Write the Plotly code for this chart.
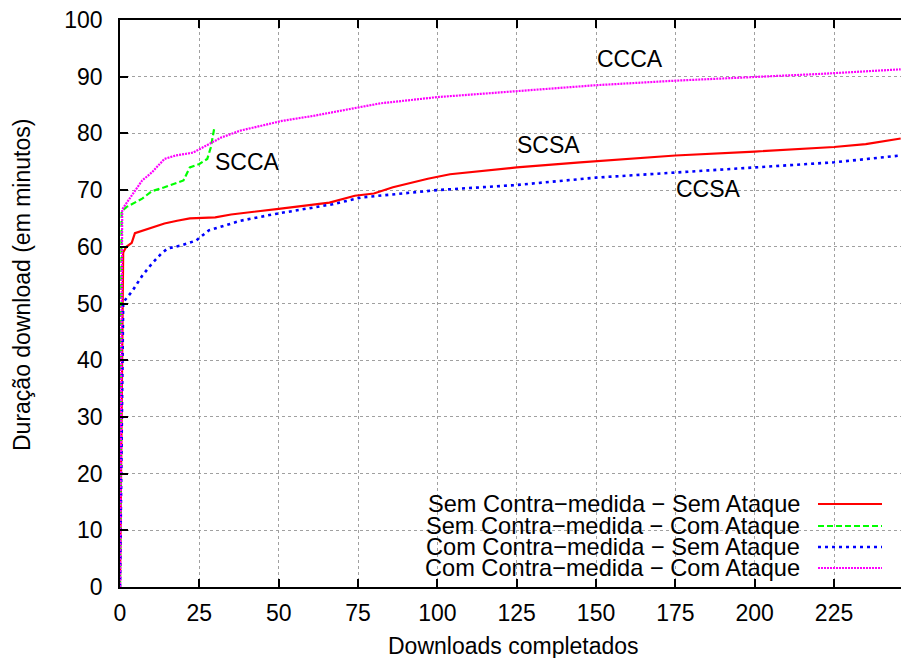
import plotly.graph_objects as go

# ---- data ----
scsa_x = [0, 1, 2, 3.7, 4.7, 9, 14, 18, 22, 30, 35, 50, 66, 74, 80, 86, 91, 97, 104, 113, 125, 145, 160, 175, 200, 225, 235, 246]
scsa_y = [0, 59, 60, 60.7, 62.4, 63.2, 64.1, 64.6, 65, 65.2, 65.7, 66.7, 67.8, 69, 69.4, 70.5, 71.2, 72, 72.8, 73.3, 74.0, 74.9, 75.5, 76.1, 76.8, 77.6, 78.1, 79.1]

scca_x = [0, 0.5, 2, 7, 10, 14, 20, 22, 25, 27.5, 28.6, 29.7]
scca_y = [0, 66.2, 67, 68.5, 69.8, 70.5, 71.7, 74.0, 74.6, 75.5, 77.5, 80.9]

ccsa_x = [0, 1, 4, 7, 10, 13, 15, 19, 24, 28, 38, 49, 67, 76, 100, 125, 150, 175, 200, 225, 246]
ccsa_y = [0, 50.2, 52.3, 54.9, 57, 58.8, 59.7, 60.2, 61.1, 62.9, 64.6, 65.8, 67.5, 68.7, 70.0, 70.9, 72.2, 73.1, 74.0, 74.9, 76.1]

ccca_x = [0, 0.7, 4, 7, 10, 14, 17.5, 23, 28, 32, 38, 44, 51, 61, 72, 82, 100, 125, 150, 175, 200, 221, 246]
ccca_y = [0, 66.6, 69.3, 71.7, 73.1, 75.5, 76.1, 76.6, 78.1, 79.3, 80.5, 81.3, 82.2, 83.1, 84.3, 85.3, 86.4, 87.4, 88.5, 89.3, 89.9, 90.5, 91.3]

legend_names = [
    "Sem Contra\u2212medida \u2212 Sem Ataque",
    "Sem Contra\u2212medida \u2212 Com Ataque",
    "Com Contra\u2212medida \u2212 Sem Ataque",
    "Com Contra\u2212medida \u2212 Com Ataque",
]
curve_labels = ["SCSA", "SCCA", "CCSA", "CCCA"]
label_x = [135.1, 40.1, 185.4, 160.7]
label_y = [78.0, 75.0, 70.2, 93.2]

x_ticks = [0, 25, 50, 75, 100, 125, 150, 175, 200, 225]
y_ticks = [0, 10, 20, 30, 40, 50, 60, 70, 80, 90, 100]

x_title = "Downloads completados"
y_title = "Dura\u00e7\u00e3o download (em minutos)"

# ---- styles ----
colors = ["#ff0000", "#00ff00", "#0000ff", "#ff00ff"]
dashes = ["solid", "6px,3px", "3px,4px", "2px,1px"]
widths = [2.2, 2.2, 2.6, 2.2]
FONT = "Liberation Sans, Arial, Helvetica, sans-serif"
FS = 23
FSL = 23.6

W, H = 901, 658
L, R, T, B = 120, 0, 20, 71
PW, PH = W - L - R, H - T - B


def px(x):
    return (x - L) / PW


def py(y):
    return (H - B - y) / PH


fig = go.Figure()
series = [(scsa_x, scsa_y), (scca_x, scca_y), (ccsa_x, ccsa_y), (ccca_x, ccca_y)]
for i, (xs, ys) in enumerate(series):
    fig.add_trace(go.Scatter(
        x=xs, y=ys, mode="lines", name=legend_names[i], showlegend=False,
        line=dict(color=colors[i], dash=dashes[i], width=widths[i]),
    ))

annotations = []
for i, t in enumerate(curve_labels):
    annotations.append(dict(x=label_x[i], y=label_y[i], xref="x", yref="y", text=t,
                            showarrow=False, font=dict(family=FONT, size=FS, color="black"),
                            xanchor="center", yanchor="middle"))

shapes = [dict(type="rect", xref="paper", yref="paper", x0=px(371), x1=px(895),
               y0=py(586), y1=py(493), fillcolor="white", line=dict(width=0), layer="between")]
row_y = [504, 526, 547, 568]
for i, name in enumerate(legend_names):
    annotations.append(dict(x=px(801), y=py(row_y[i]), xref="paper", yref="paper", text=name,
                            showarrow=False, font=dict(family=FONT, size=FSL, color="black"),
                            xanchor="right", yanchor="middle", borderpad=0))
    shapes.append(dict(type="line", xref="paper", yref="paper", x0=px(818), x1=px(882),
                       y0=py(row_y[i]), y1=py(row_y[i]),
                       line=dict(color=colors[i], dash=dashes[i], width=widths[i]), layer="above"))

annotations.append(dict(x=px(513), y=py(646), xref="paper", yref="paper", text=x_title,
                        showarrow=False, font=dict(family=FONT, size=FS, color="black"),
                        xanchor="center", yanchor="middle"))
annotations.append(dict(x=px(22), y=py(285), xref="paper", yref="paper", text=y_title,
                        showarrow=False, textangle=-90, font=dict(family=FONT, size=FS, color="black"),
                        xanchor="center", yanchor="middle"))

fig.update_layout(
    width=W, height=H,
    margin=dict(l=L, r=R, t=T, b=B, pad=0),
    paper_bgcolor="white", plot_bgcolor="white",
    showlegend=False,
    font=dict(family=FONT, size=FS, color="black"),
    annotations=annotations,
    shapes=shapes,
    xaxis=dict(range=[0, 246.1], tickvals=x_ticks, ticks="inside", ticklen=8, tickwidth=1.5,
               tickcolor="black", showline=True, linecolor="black", linewidth=1.5, mirror="ticks",
               showgrid=True, gridcolor="#a0a0a0", griddash="dot", gridwidth=1, zeroline=False,
               ticklabelstandoff=5, tickfont=dict(family=FONT, size=FS)),
    yaxis=dict(range=[0, 100], tickvals=y_ticks, ticks="inside", ticklen=8, tickwidth=1.5,
               tickcolor="black", showline=True, linecolor="black", linewidth=1.5, mirror=False,
               showgrid=True, gridcolor="#a0a0a0", griddash="dot", gridwidth=1, zeroline=False,
               ticklabelstandoff=11, tickfont=dict(family=FONT, size=FS)),
)

fig.write_html("out.html")
